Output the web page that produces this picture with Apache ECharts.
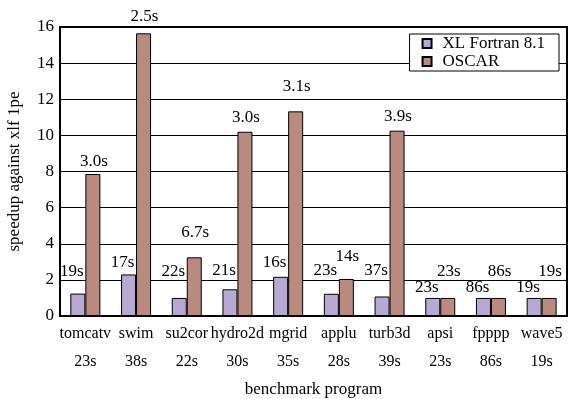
<!DOCTYPE html>
<html>
<head>
<meta charset="utf-8">
<script src="https://cdn.jsdelivr.net/npm/echarts@6/dist/echarts.min.js"></script>
<style>
  html, body { margin: 0; padding: 0; background: #fff; }
  #chart { width: 568px; height: 399px; }
</style>
</head>
<body>
<div id="chart"></div>
<script>
// benchmark names and the sequential times shown under them
const categories = ['tomcatv', 'swim', 'su2cor', 'hydro2d', 'mgrid', 'applu', 'turb3d', 'apsi', 'fpppp', 'wave5'];
const baseTimes = ['23s', '38s', '22s', '30s', '35s', '28s', '39s', '23s', '86s', '19s'];

// speedup values
const xlfSpeedup = [1.24, 2.3, 1.0, 1.48, 2.17, 1.23, 1.08, 1.0, 1.0, 1.0];
const oscarSpeedup = [7.86, 15.65, 3.25, 10.2, 11.33, 2.05, 10.26, 1.0, 1.0, 1.0];

// execution times printed over the bars
const xlfTimes = ['19s', '17s', '22s', '21s', '16s', '23s', '37s', '23s', '86s', '19s'];
const oscarTimes = ['3.0s', '2.5s', '6.7s', '3.0s', '3.1s', '14s', '3.9s', '23s', '86s', '19s'];

const yTicks = [0, 2, 4, 6, 8, 10, 12, 14, 16];

// label gaps above the bars (the original spreads them to avoid overlap)
const xlfLabelGap = [14, 3, 18, 10, 6, 15, 17, 2, 2, 2];
const oscarLabelGap = [4, 8, 16, 6, 16, 14, 6, 18, 18, 18];

const FONT = '"Liberation Serif", "DejaVu Serif", serif';

const chart = echarts.init(document.getElementById('chart'), null, { renderer: 'canvas' });

const barLabel = (times, dx) => ({
  show: true,
  position: 'top',
  offset: [dx, 0],
  fontFamily: FONT,
  fontSize: 17,
  color: '#000',
  formatter: (p) => times[p.dataIndex],
});

const withGap = (values, gaps) =>
  values.map((v, i) => ({ value: v, label: { distance: gaps[i] } }));

chart.setOption({
  animation: false,
  textStyle: { fontFamily: FONT },
  grid: {
    left: 60,
    right: 1,
    top: 27,
    bottom: 83,
    outerBoundsMode: 'none',
    containLabel: false,
    show: true,
    borderColor: '#000',
    borderWidth: 2,
  },
  legend: {
    orient: 'vertical',
    right: 9,
    top: 34,
    backgroundColor: '#fff',
    borderColor: '#000',
    borderWidth: 1,
    padding: [1, 14, 1, 12],
    itemGap: 1,
    itemWidth: 9,
    itemHeight: 9,
    icon: 'rect',
    textStyle: { fontFamily: FONT, fontSize: 17, color: '#000', padding: [0, 0, 0, 6] },
    data: ['XL Fortran 8.1', 'OSCAR'],
  },
  xAxis: {
    type: 'category',
    data: categories,
    name: 'benchmark program',
    nameLocation: 'middle',
    nameGap: 56,
    nameTextStyle: { fontFamily: FONT, fontSize: 17, color: '#000' },
    axisLine: { lineStyle: { color: '#000', width: 2 } },
    axisTick: { show: false },
    axisLabel: {
      interval: 0,
      margin: 4,
      fontFamily: FONT,
      fontSize: 16,
      color: '#000',
      lineHeight: 28,
      formatter: (v, i) => v + '\n' + baseTimes[i],
    },
  },
  yAxis: {
    type: 'value',
    min: yTicks[0],
    max: yTicks[yTicks.length - 1],
    interval: 2,
    name: 'speedup against xlf 1pe',
    nameLocation: 'middle',
    nameGap: 37,
    nameTextStyle: { fontFamily: FONT, fontSize: 17, color: '#000' },
    axisLine: { show: true, lineStyle: { color: '#000', width: 2 } },
    axisTick: { show: false },
    axisLabel: { fontFamily: FONT, fontSize: 17, color: '#000', margin: 6 },
    splitLine: { lineStyle: { color: '#000', width: 1 } },
  },
  series: [
    {
      name: 'XL Fortran 8.1',
      type: 'bar',
      data: withGap(xlfSpeedup, xlfLabelGap),
      barWidth: 15,
      barGap: '0%',
      itemStyle: { color: '#b7a9d1', borderColor: '#000', borderWidth: 1 },
      label: barLabel(xlfTimes, -6),
    },
    {
      name: 'OSCAR',
      type: 'bar',
      data: withGap(oscarSpeedup, oscarLabelGap),
      barWidth: 15,
      itemStyle: { color: '#b88a80', borderColor: '#000', borderWidth: 1 },
      label: barLabel(oscarTimes, 1),
    },
  ],
});
</script>
</body>
</html>
